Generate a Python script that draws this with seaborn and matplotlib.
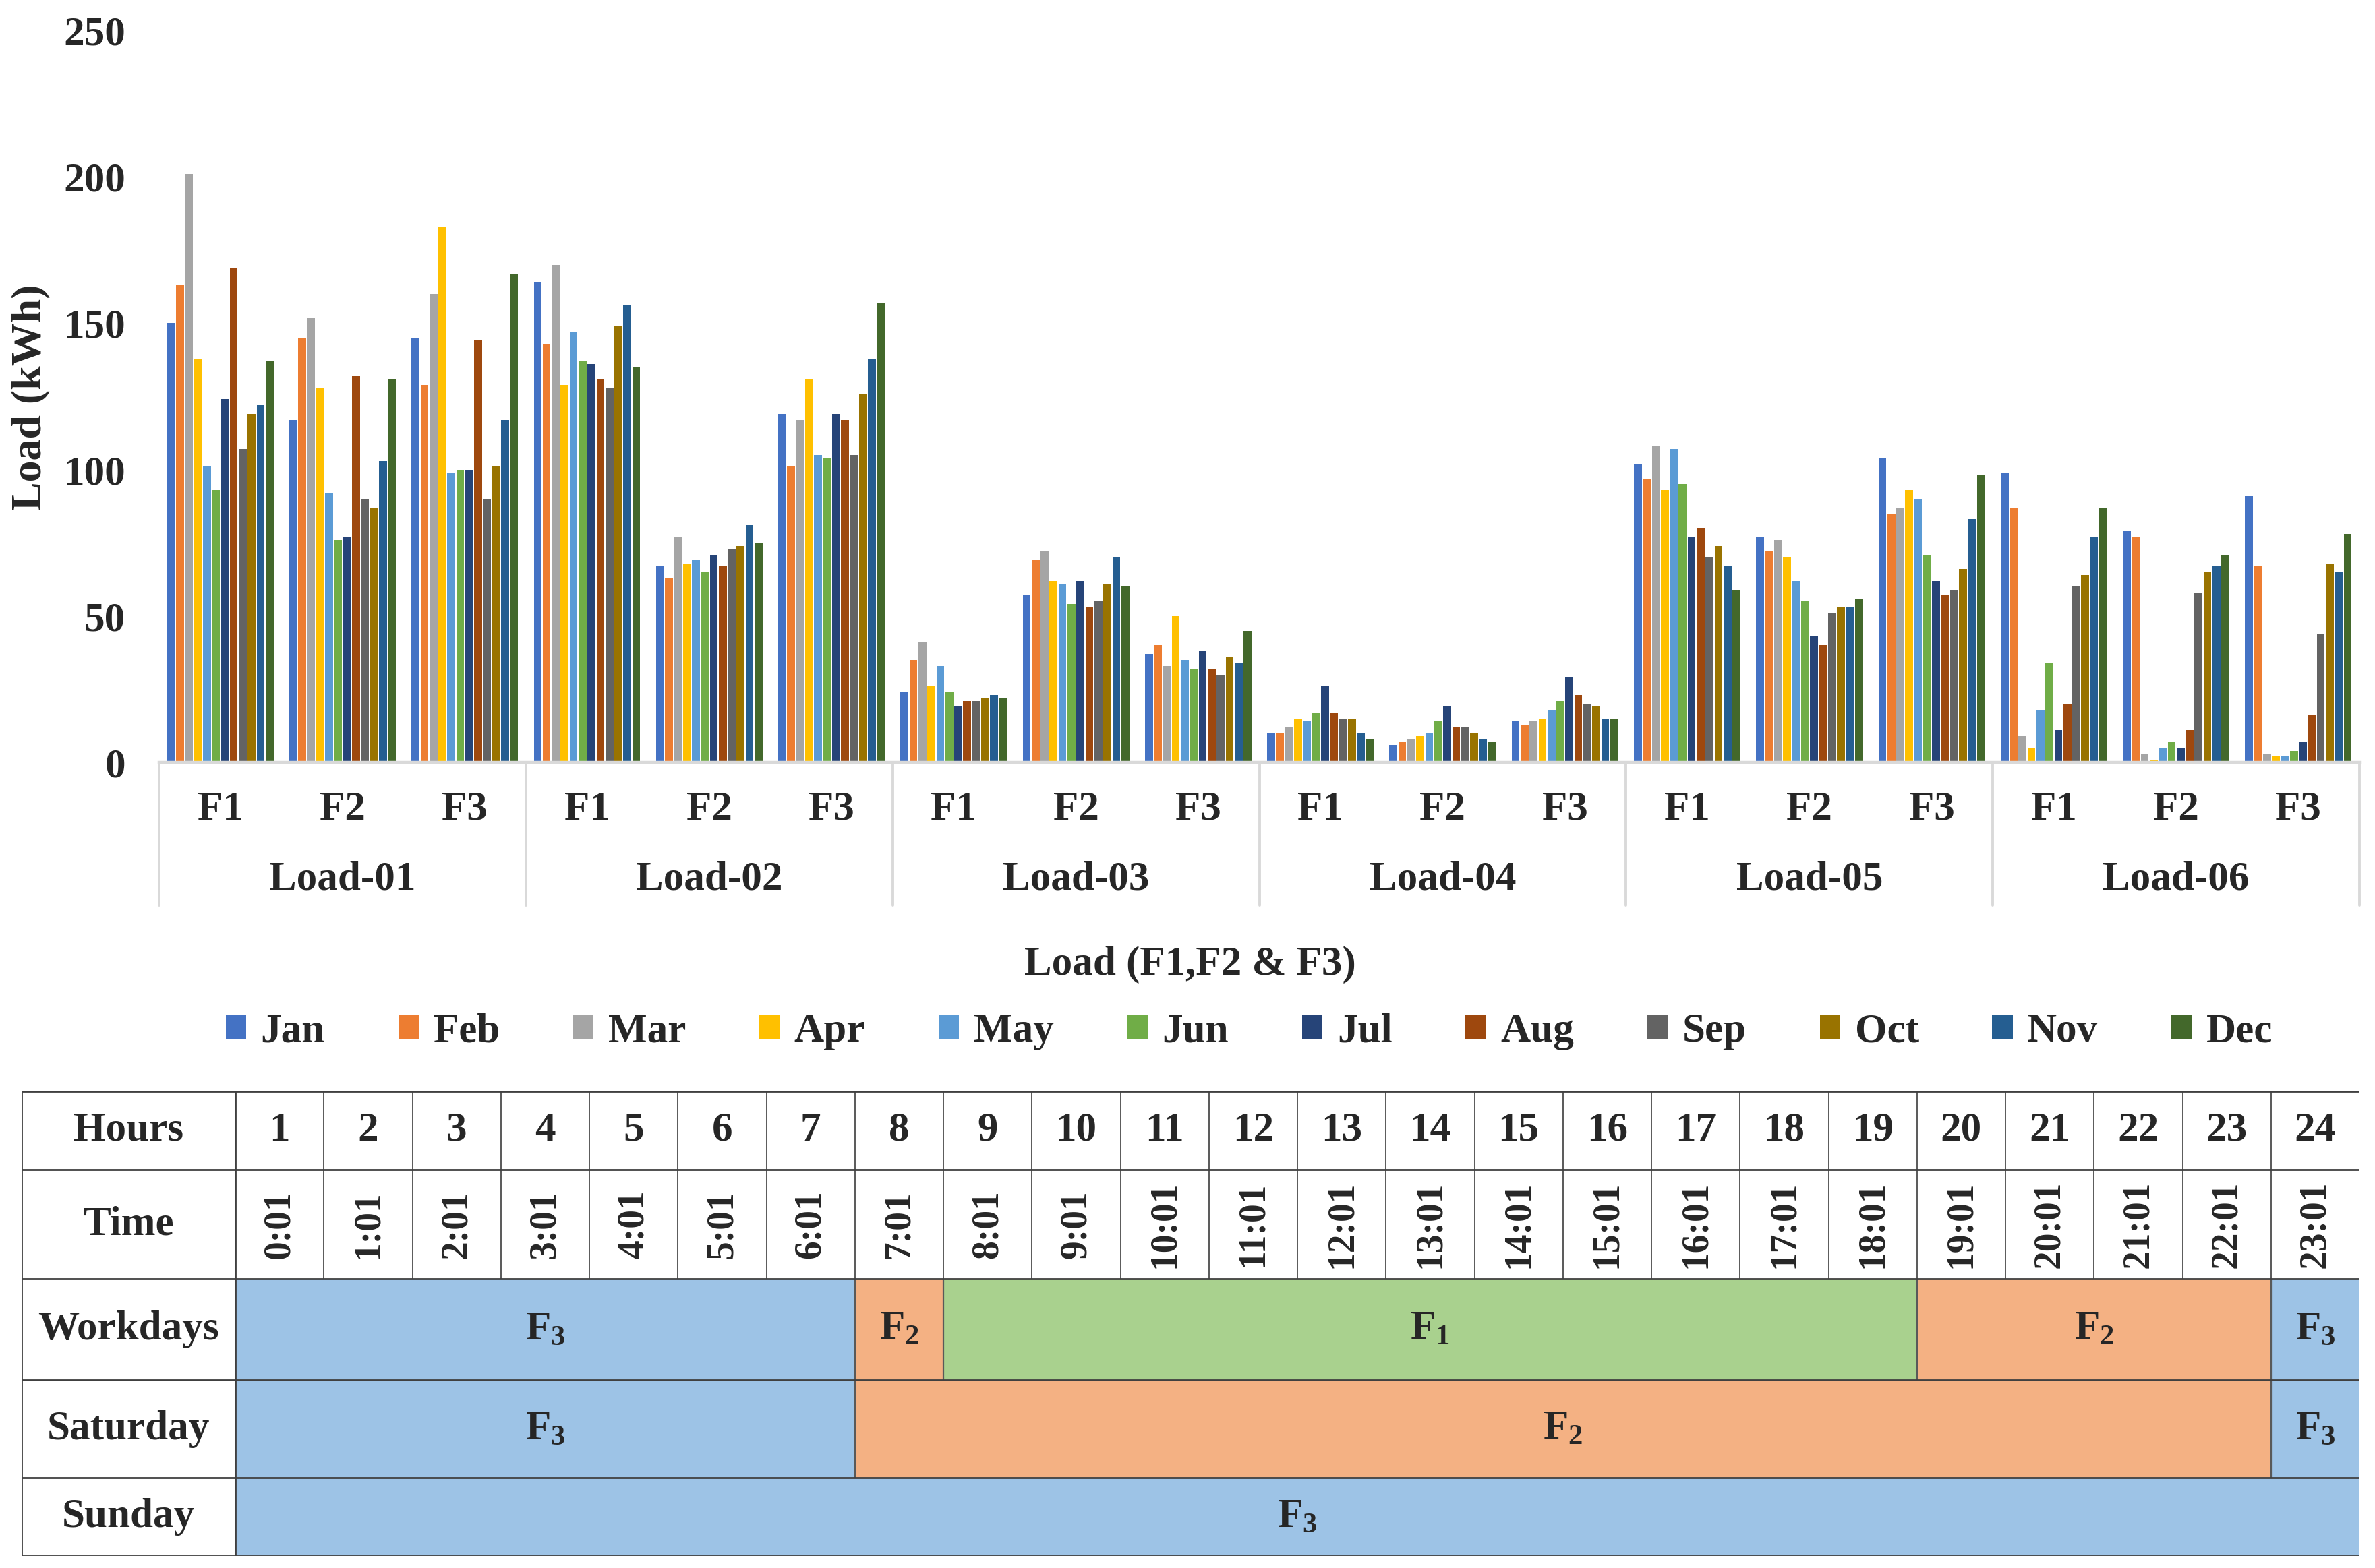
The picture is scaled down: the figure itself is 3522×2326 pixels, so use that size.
import numpy as np
import pandas as pd
import seaborn as sns
import matplotlib
matplotlib.use("Agg")
import matplotlib.pyplot as plt
import matplotlib.transforms as mtrans
from matplotlib.patches import Patch, Rectangle
from matplotlib.lines import Line2D

# ---------------- data ----------------
months = ["Jan", "Feb", "Mar", "Apr", "May", "Jun", "Jul", "Aug", "Sep", "Oct", "Nov", "Dec"]
month_colors = ["#4472C4", "#ED7D31", "#A5A5A5", "#FFC000", "#5B9BD5", "#70AD47",
                "#264478", "#9E480E", "#636363", "#997300", "#255E91", "#43682B"]
loads = ["Load-01", "Load-02", "Load-03", "Load-04", "Load-05", "Load-06"]
periods = ["F1", "F2", "F3"]

load01_f1 = [150, 163, 201, 138, 101, 93, 124, 169, 107, 119, 122, 137]
load01_f2 = [117, 145, 152, 128, 92, 76, 77, 132, 90, 87, 103, 131]
load01_f3 = [145, 129, 160, 183, 99, 100, 100, 144, 90, 101, 117, 167]
load02_f1 = [164, 143, 170, 129, 147, 137, 136, 131, 128, 149, 156, 135]
load02_f2 = [67, 63, 77, 68, 69, 65, 71, 67, 73, 74, 81, 75]
load02_f3 = [119, 101, 117, 131, 105, 104, 119, 117, 105, 126, 138, 157]
load03_f1 = [24, 35, 41, 26, 33, 24, 19, 21, 21, 22, 23, 22]
load03_f2 = [57, 69, 72, 62, 61, 54, 62, 53, 55, 61, 70, 60]
load03_f3 = [37, 40, 33, 50, 35, 32, 38, 32, 30, 36, 34, 45]
load04_f1 = [10, 10, 12, 15, 14, 17, 26, 17, 15, 15, 10, 8]
load04_f2 = [6, 7, 8, 9, 10, 14, 19, 12, 12, 10, 8, 7]
load04_f3 = [14, 13, 14, 15, 18, 21, 29, 23, 20, 19, 15, 15]
load05_f1 = [102, 97, 108, 93, 107, 95, 77, 80, 70, 74, 67, 59]
load05_f2 = [77, 72, 76, 70, 62, 55, 43, 40, 51, 53, 53, 56]
load05_f3 = [104, 85, 87, 93, 90, 71, 62, 57, 59, 66, 83, 98]
load06_f1 = [99, 87, 9, 5, 18, 34, 11, 20, 60, 64, 77, 87]
load06_f2 = [79, 77, 3, 1, 5, 7, 5, 11, 58, 65, 67, 71]
load06_f3 = [91, 67, 3, 2, 2, 4, 7, 16, 44, 68, 65, 78]

series = {
    "Load-01": [load01_f1, load01_f2, load01_f3],
    "Load-02": [load02_f1, load02_f2, load02_f3],
    "Load-03": [load03_f1, load03_f2, load03_f3],
    "Load-04": [load04_f1, load04_f2, load04_f3],
    "Load-05": [load05_f1, load05_f2, load05_f3],
    "Load-06": [load06_f1, load06_f2, load06_f3],
}

y_ticks = [0, 50, 100, 150, 200, 250]

# table data
row_headers = ["Hours", "Time", "Workdays", "Saturday", "Sunday"]
hours = [str(h) for h in range(1, 25)]
times = ["0:01", "1:01", "2:01", "3:01", "4:01", "5:01", "6:01", "7:01", "8:01", "9:01",
         "10:01", "11:01", "12:01", "13:01", "14:01", "15:01", "16:01", "17:01", "18:01",
         "19:01", "20:01", "21:01", "22:01", "23:01"]
workdays = ["F3"] * 7 + ["F2"] + ["F1"] * 11 + ["F2"] * 4 + ["F3"]
saturday = ["F3"] * 7 + ["F2"] * 16 + ["F3"]
sunday = ["F3"] * 24
period_colors = {"F1": "#A9D18E", "F2": "#F4B183", "F3": "#9DC3E6"}

# ---------------- build frame ----------------
rows = []
cats = []
for ld in loads:
    for p_i, p in enumerate(periods):
        cat = f"{ld}|{p}"
        cats.append(cat)
        for m, v in zip(months, series[ld][p_i]):
            rows.append({"cat": cat, "month": m, "value": v})
df = pd.DataFrame(rows)

# ---------------- style ----------------
sns.set_theme(style="white")
plt.rcParams["font.family"] = ["Liberation Serif", "DejaVu Serif"]
plt.rcParams["font.weight"] = "bold"
plt.rcParams["mathtext.fontset"] = "custom"
plt.rcParams["mathtext.rm"] = "Liberation Serif:bold"
plt.rcParams["mathtext.bf"] = "Liberation Serif:bold"
plt.rcParams["mathtext.it"] = "Liberation Serif:bold"

W, H = 3522, 2326
fig = plt.figure(figsize=(W / 200, H / 200), dpi=200)
fig.patch.set_facecolor("white")

ax_left, ax_right, ax_top, ax_base = 236, 3499, 45, 1131
ax = fig.add_axes([ax_left / W, 1 - ax_base / H, (ax_right - ax_left) / W, (ax_base - ax_top) / H])

sns.barplot(data=df, x="cat", y="value", hue="month", order=cats, hue_order=months,
            palette=month_colors, width=0.88, gap=0.12, saturation=1, linewidth=0,
            errorbar=None, legend=False, ax=ax)

ax.set_xlim(-0.5, len(cats) - 0.5)
ax.set_ylim(0, 250)
ax.set_yticks(y_ticks)
ax.set_yticklabels([str(t) for t in y_ticks], fontsize=22, fontweight="bold")
ax.tick_params(axis="y", length=0, pad=18)
ax.set_xticks([])
ax.set_xlabel("")
ax.set_ylabel("")
for s in ["left", "right", "top"]:
    ax.spines[s].set_visible(False)
ax.spines["bottom"].set_color("#D9D9D9")
ax.spines["bottom"].set_linewidth(1.6)

blend = mtrans.blended_transform_factory(ax.transData, ax.transAxes)
for k in range(len(loads) + 1):
    b = -0.5 + 3 * k
    ax.add_line(Line2D([b, b], [0, -0.195], transform=blend, color="#D9D9D9", lw=1.4, clip_on=False))
for i, cat in enumerate(cats):
    ax.text(i, -0.064, cat.split("|")[1], transform=blend, ha="center", va="center",
            fontsize=22, fontweight="bold")
for k, ld in enumerate(loads):
    ax.text(3 * k + 1, -0.160, ld, transform=blend, ha="center", va="center",
            fontsize=22, fontweight="bold")

fig.text(45 / W, 1 - 589 / H, "Load (kWh)", rotation=90, ha="center", va="center",
         fontsize=23, fontweight="bold")
fig.text(0.501, 1 - 1431 / H, "Load (F1,F2 & F3)", ha="center", va="center",
         fontsize=22, fontweight="bold")

handles = [Patch(facecolor=c, edgecolor="none") for c in month_colors]
fig.legend(handles=handles, labels=months, loc="center", bbox_to_anchor=(0.526, 1 - 1530 / H),
           ncol=12, frameon=False, prop={"size": 22, "weight": "bold"},
           handlelength=0.5, handleheight=0.5, handletextpad=0.35, columnspacing=1.78)

# ---------------- table ----------------
t_left, t_right, t_top, t_bottom = 32, 3499, 1619, 2308
col_w = (t_right - 349) / 24.0
hdr_w = (349 - t_left) / col_w
tax = fig.add_axes([t_left / W, 1 - t_bottom / H, (t_right - t_left) / W, (t_bottom - t_top) / H])
row_edges = [0, 116, 278, 428, 573, 689]
tax.set_xlim(-hdr_w, 24)
tax.set_ylim(row_edges[-1], 0)
tax.axis("off")

line_c = "#404040"

def runs(seq):
    out = []
    start = 0
    for i in range(1, len(seq) + 1):
        if i == len(seq) or seq[i] != seq[start]:
            out.append((start, i, seq[start]))
            start = i
    return out

# header column text
for r, name in enumerate(row_headers):
    yc = (row_edges[r] + row_edges[r + 1]) / 2
    tax.text(-hdr_w / 2, yc, name, ha="center", va="center", fontsize=22, fontweight="bold", zorder=3)

# hours & times
for i in range(24):
    tax.text(i + 0.5, (row_edges[0] + row_edges[1]) / 2, hours[i], ha="center", va="center",
             fontsize=22, fontweight="bold", zorder=3)
    tax.text(i + 0.5, (row_edges[1] + row_edges[2]) / 2, times[i], ha="center", va="center",
             rotation=90, fontsize=20, fontweight="bold", zorder=3)
    if i > 0:
        tax.plot([i, i], [row_edges[0], row_edges[2]], color="#595959", lw=0.7, zorder=2)

# schedules
for r, sched in zip([2, 3, 4], [workdays, saturday, sunday]):
    y0, y1 = row_edges[r], row_edges[r + 1]
    for a, b, p in runs(sched):
        tax.add_patch(Rectangle((a, y0), b - a, y1 - y0, facecolor=period_colors[p],
                                edgecolor="none", zorder=1))
        tax.text((a + b) / 2, (y0 + y1) / 2, "F$_{" + p[1] + "}$", ha="center", va="center",
                 fontsize=22, fontweight="bold", zorder=3)
        if a > 0:
            tax.plot([a, a], [y0, y1], color="#595959", lw=0.8, zorder=2)

for y in row_edges:
    tax.plot([-hdr_w, 24], [y, y], color=line_c, lw=1.0, zorder=2, solid_capstyle="projecting")
for x in [-hdr_w, 0, 24]:
    tax.plot([x, x], [row_edges[0], row_edges[-1]], color=line_c, lw=1.0, zorder=2,
             solid_capstyle="projecting")

fig.savefig("out.png", dpi=200, facecolor="white")
